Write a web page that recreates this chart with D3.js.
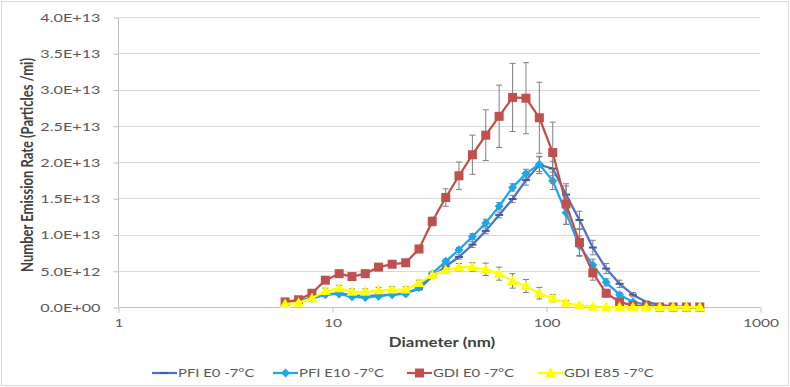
<!DOCTYPE html>
<html>
<head>
<meta charset="utf-8">
<script src="https://cdn.jsdelivr.net/npm/d3@7"></script>
<style>
  html, body { margin: 0; padding: 0; background: #fff; }
  svg { display: block; font-family: Lato, "Open Sans", "Liberation Sans", sans-serif; }
</style>
</head>
<body>
<svg id="chart" width="790" height="387"></svg>
<script>
// ---- data ----
const diameters = [6.04, 6.98, 8.06, 9.31, 10.8, 12.4, 14.3, 16.5, 19.1, 22.1, 25.5, 29.4, 34.0, 39.2, 45.3, 52.3,
                   60.4, 69.8, 80.6, 93.1, 107.5, 124.1, 143.3, 165.5, 191.1, 220.7, 254.8, 294.3, 339.8, 392.4, 453.2, 523.3];

const seriesNames = ["PFI E0 -7°C", "PFI E10 -7°C", "GDI E0 -7°C", "GDI E85 -7°C"];

// values in units of 1e13 particles/mi
const pfiE0 = [0.04, 0.08, 0.13, 0.17, 0.19, 0.16, 0.15, 0.16, 0.17, 0.19, 0.25, 0.42, 0.56, 0.69, 0.86, 1.05,
               1.27, 1.49, 1.75, 1.96, 1.91, 1.55, 1.20, 0.82, 0.53, 0.32, 0.17, 0.07, 0.03, 0.01, 0, 0];
const pfiE0Err = [0.01, 0.01, 0.01, 0.01, 0.01, 0.01, 0.01, 0.01, 0.01, 0.01, 0.02, 0.02, 0.03, 0.03, 0.04, 0.04,
                  0.04, 0.05, 0.07, 0.12, 0.10, 0.12, 0.12, 0.10, 0.07, 0.05, 0.03, 0.01, 0.01, 0, 0, 0];

const pfiE10 = [0.04, 0.07, 0.12, 0.17, 0.18, 0.14, 0.13, 0.15, 0.17, 0.18, 0.27, 0.46, 0.63, 0.79, 0.97, 1.16,
                1.39, 1.65, 1.84, 1.97, 1.74, 1.30, 0.84, 0.58, 0.34, 0.17, 0.07, 0.03, 0.01, 0, 0, 0];
const pfiE10Err = [0.01, 0.01, 0.01, 0.01, 0.01, 0.01, 0.01, 0.01, 0.01, 0.01, 0.02, 0.02, 0.03, 0.03, 0.04, 0.05,
                   0.05, 0.05, 0.06, 0.10, 0.12, 0.16, 0.14, 0.08, 0.05, 0.03, 0.02, 0.01, 0, 0, 0, 0];

const gdiE0 = [0.07, 0.10, 0.19, 0.37, 0.46, 0.42, 0.46, 0.55, 0.59, 0.61, 0.80, 1.18, 1.51, 1.81, 2.10, 2.37,
               2.63, 2.89, 2.88, 2.61, 2.13, 1.42, 0.89, 0.47, 0.19, 0.07, 0.02, 0.005, 0, 0, 0, 0];
const gdiE0Err = [0.01, 0.01, 0.02, 0.02, 0.02, 0.02, 0.02, 0.02, 0.03, 0.03, 0.05, 0.06, 0.12, 0.19, 0.27, 0.35,
                  0.43, 0.47, 0.49, 0.49, 0.42, 0.28, 0.18, 0.10, 0.05, 0.02, 0.01, 0, 0, 0, 0, 0];

const gdiE85 = [0.04, 0.06, 0.12, 0.22, 0.26, 0.21, 0.21, 0.23, 0.24, 0.24, 0.33, 0.44, 0.51, 0.55, 0.55, 0.52,
                0.46, 0.36, 0.29, 0.19, 0.12, 0.06, 0.02, 0.005, 0, 0, 0, 0, 0, 0, 0, 0];
const gdiE85Err = [0.01, 0.02, 0.03, 0.04, 0.04, 0.04, 0.04, 0.04, 0.04, 0.04, 0.04, 0.04, 0.05, 0.05, 0.06, 0.085,
                   0.09, 0.10, 0.09, 0.08, 0.05, 0.03, 0.01, 0.01, 0, 0, 0, 0, 0, 0, 0, 0];

const yTickValues = [0, 0.5e13, 1.0e13, 1.5e13, 2.0e13, 2.5e13, 3.0e13, 3.5e13, 4.0e13];
const yTickLabels = ["0.0E+00", "5.0E+12", "1.0E+13", "1.5E+13", "2.0E+13", "2.5E+13", "3.0E+13", "3.5E+13", "4.0E+13"];
const xTickValues = [1, 10, 100, 1000];
const xTickLabels = ["1", "10", "100", "1000"];

const xTitle = "Diameter (nm)";
const yTitle = "Number Emission Rate (Particles /mi)";

// ---- chart ----
const svg = d3.select("#chart");
const W = 790, H = 387;
const plotL = 118, plotR = 760, plotT = 17, plotB = 307;
const SX = 1.35; // horizontal stretch of the text in the original image

svg.append("rect").attr("x", 1.5).attr("y", 1.5).attr("width", W - 3).attr("height", H - 3)
  .attr("fill", "#fff").attr("stroke", "#d9d9d9").attr("stroke-width", 1);

const x = d3.scaleLog().domain([1, 1000]).range([plotL, plotR]);
const y = d3.scaleLinear().domain([0, 4e13]).range([plotB, plotT]);

// gridlines
svg.append("g").selectAll("line").data(yTickValues.slice(1)).join("line")
  .attr("x1", plotL).attr("x2", plotR)
  .attr("y1", d => Math.round(y(d)) + 0.5).attr("y2", d => Math.round(y(d)) + 0.5)
  .attr("stroke", "#d9d9d9").attr("stroke-width", 1);

// y axis
const yAxis = d3.axisLeft(y).tickValues(yTickValues)
  .tickFormat((d, i) => yTickLabels[i]).tickSize(5).tickPadding(12);
const gy = svg.append("g").attr("transform", `translate(${plotL + 0.5},0.5)`).call(yAxis);
gy.select(".domain").attr("stroke", "#bfbfbf").attr("d", `M0,${plotT}V${plotB}`);
gy.selectAll(".tick line").attr("stroke", "#bfbfbf");
gy.selectAll(".tick text").attr("fill", "#595959").style("font-size", "12px")
  .style("font-family", "Lato, 'Open Sans', sans-serif")
  .attr("x", -18 / SX).attr("transform", `scale(${SX},1)`);

// x axis
const xAxis = d3.axisBottom(x).tickValues(xTickValues)
  .tickFormat((d, i) => xTickLabels[i]).tickSize(5).tickPadding(6);
const gx = svg.append("g").attr("transform", `translate(0.5,${plotB + 0.5})`).call(xAxis);
gx.select(".domain").attr("stroke", "#bfbfbf").attr("d", `M${plotL},0H${plotR}`);
gx.selectAll(".tick line").attr("stroke", "#bfbfbf");
gx.selectAll(".tick text").attr("fill", "#595959").style("font-size", "11.5px")
  .style("font-family", "Lato, 'Open Sans', sans-serif")
  .attr("transform", `scale(${SX},1)`);

// titles
svg.append("text").attr("transform", `translate(${(plotL + plotR) / 2 + 3},347) scale(${SX},1)`)
  .attr("text-anchor", "middle").attr("fill", "#404040")
  .style("font-size", "12.5px").style("font-weight", "bold").text(xTitle);
svg.append("text").attr("transform", `translate(33,${(plotT + plotB) / 2 + 3}) scale(${SX},1) rotate(-90)`)
  .attr("text-anchor", "middle").attr("fill", "#404040")
  .style("font-size", "13px").style("font-weight", "bold").text(yTitle);

const UNIT = 1e13;
const series = [
  { name: seriesNames[0], vals: pfiE0, err: pfiE0Err, color: "#5470c6", marker: "dash" },
  { name: seriesNames[1], vals: pfiE10, err: pfiE10Err, color: "#1aa7ec", marker: "diamond" },
  { name: seriesNames[2], vals: gdiE0, err: gdiE0Err, color: "#c0504d", marker: "square" },
  { name: seriesNames[3], vals: gdiE85, err: gdiE85Err, color: "#ffff00", marker: "triangle" }
];

function drawMarker(g, type, cx, cy, color) {
  if (type === "diamond") {
    g.append("path").attr("d", `M${cx},${cy - 4.5}L${cx + 4.5},${cy}L${cx},${cy + 4.5}L${cx - 4.5},${cy}Z`)
      .attr("fill", color);
  } else if (type === "square") {
    g.append("rect").attr("x", cx - 4.5).attr("y", cy - 4.5).attr("width", 9).attr("height", 9).attr("fill", color);
  } else if (type === "triangle") {
    g.append("path").attr("d", `M${cx},${cy - 5.5}L${cx + 5.5},${cy + 4}L${cx - 5.5},${cy + 4}Z`)
      .attr("fill", color);
  } else if (type === "dash") {
    g.append("line").attr("x1", cx - 4).attr("x2", cx + 4).attr("y1", cy).attr("y2", cy)
      .attr("stroke", "#3f5aa8").attr("stroke-width", 2);
  }
}

const line = d3.line().x(d => x(d[0])).y(d => y(d[1]));

series.forEach(s => {
  const g = svg.append("g");
  const pts = diameters.map((d, i) => [d, s.vals[i] * UNIT, s.err[i] * UNIT]);
  // error bars
  const eb = g.append("g").attr("stroke", "#7f7f7f").attr("stroke-width", 1);
  pts.forEach(p => {
    if (p[2] <= 0) return;
    const cx = x(p[0]);
    const y1 = y(p[1] + p[2]), y2 = y(Math.max(0, p[1] - p[2]));
    eb.append("line").attr("x1", cx).attr("x2", cx).attr("y1", y1).attr("y2", y2);
    eb.append("line").attr("x1", cx - 3).attr("x2", cx + 3).attr("y1", y1).attr("y2", y1);
    eb.append("line").attr("x1", cx - 3).attr("x2", cx + 3).attr("y1", y2).attr("y2", y2);
  });
  g.append("path").datum(pts).attr("d", line).attr("fill", "none")
    .attr("stroke", s.color).attr("stroke-width", 2.25).attr("stroke-linejoin", "round");
  pts.forEach(p => drawMarker(g, s.marker, x(p[0]), y(p[1]), s.color));
});

// legend
const legendX = [152, 273, 407, 538];
const legendY = 373;
series.forEach((s, i) => {
  const g = svg.append("g");
  const x0 = legendX[i];
  g.append("line").attr("x1", x0).attr("x2", x0 + 25).attr("y1", legendY).attr("y2", legendY)
    .attr("stroke", s.color).attr("stroke-width", 2.25);
  drawMarker(g, s.marker, x0 + 12.5, legendY, s.color);
  g.append("text").attr("transform", `translate(${x0 + 26},${legendY + 4}) scale(${SX},1)`)
    .attr("fill", "#595959")
    .style("font-size", "11px").text(s.name);
});
</script>
</body>
</html>
